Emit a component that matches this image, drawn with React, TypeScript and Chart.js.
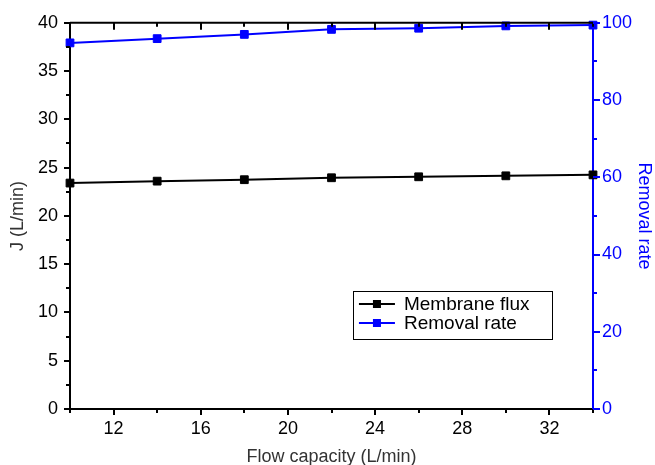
import React, { useEffect, useRef } from 'react';
import { Chart, registerables } from 'chart.js';

Chart.register(...registerables);

const flowCapacity = [10, 14, 18, 22, 26, 30, 34];
const membraneFlux = [23.4, 23.6, 23.75, 23.95, 24.05, 24.15, 24.25];
const removalRate = [94.8, 95.9, 97.0, 98.3, 98.6, 99.2, 99.4];

const xMajorTicks = [12, 16, 20, 24, 28, 32];
const xMinorTicks = [10, 14, 18, 22, 26, 30, 34];
const leftMajorTicks = [0, 5, 10, 15, 20, 25, 30, 35, 40];
const leftMinorTicks = [2.5, 7.5, 12.5, 17.5, 22.5, 27.5, 32.5, 37.5];
const rightMajorTicks = [0, 20, 40, 60, 80, 100];
const rightMinorTicks = [10, 30, 50, 70, 90];

const seriesNames = ['Membrane flux', 'Removal rate'];
const xTitle = 'Flow capacity (L/min)';
const yTitle = 'J (L/min)';
const y1Title = 'Removal rate';

const FONT = '"Liberation Sans", Arial, Helvetica, sans-serif';
const BLUE = '#0000ff';

const axisTicksPlugin = {
  id: 'axisTicks',
  afterDraw(chart: any) {
    const { ctx, chartArea: a, scales } = chart;
    const sx = scales.x;
    const sy = scales.y;
    const sy1 = scales.y1;
    ctx.save();
    ctx.lineWidth = 2;
    ctx.lineCap = 'butt';
    const seg = (x1: number, y1: number, x2: number, y2: number, color: string) => {
      ctx.strokeStyle = color;
      ctx.beginPath();
      ctx.moveTo(x1, y1);
      ctx.lineTo(x2, y2);
      ctx.stroke();
    };
    // top frame line
    seg(a.left, a.top, a.right, a.top, '#000');
    // bottom ticks (outward) and top ticks (inward)
    xMajorTicks.forEach((v) => {
      const px = Math.round(sx.getPixelForValue(v));
      seg(px, a.bottom, px, a.bottom + 6, '#000');
      seg(px, a.top, px, a.top + 7, '#000');
    });
    xMinorTicks.forEach((v) => {
      const px = Math.round(sx.getPixelForValue(v));
      seg(px, a.bottom, px, a.bottom + 4, '#000');
      seg(px, a.top, px, a.top + 4, '#000');
    });
    // left ticks
    leftMajorTicks.forEach((v) => {
      const py = Math.round(sy.getPixelForValue(v));
      seg(a.left, py, a.left - 6, py, '#000');
    });
    leftMinorTicks.forEach((v) => {
      const py = Math.round(sy.getPixelForValue(v));
      seg(a.left, py, a.left - 4, py, '#000');
    });
    // right ticks
    rightMajorTicks.forEach((v) => {
      const py = Math.round(sy1.getPixelForValue(v));
      seg(a.right, py, a.right + 7, py, BLUE);
    });
    rightMinorTicks.forEach((v) => {
      const py = Math.round(sy1.getPixelForValue(v));
      seg(a.right, py, a.right + 4, py, BLUE);
    });
    ctx.restore();
  },
};

const boxLegendPlugin = {
  id: 'boxLegend',
  afterDraw(chart: any) {
    const { ctx, chartArea: a } = chart;
    const w = a.right - a.left;
    const h = a.bottom - a.top;
    const bx = a.left + 0.541 * w;
    const by = a.top + 0.694 * h;
    const bw = 0.381 * w;
    const bh = 0.124 * h;
    ctx.save();
    ctx.strokeStyle = '#000';
    ctx.lineWidth = 1;
    ctx.strokeRect(Math.round(bx) + 0.5, Math.round(by) + 0.5, Math.round(bw), Math.round(bh));
    ctx.font = '19px ' + FONT;
    ctx.textBaseline = 'middle';
    ctx.textAlign = 'left';
    chart.data.datasets.forEach((ds: any, i: number) => {
      const ly = Math.round(by + 13 + i * 19.5);
      const lx = bx + 6;
      ctx.strokeStyle = ds.borderColor;
      ctx.lineWidth = 2;
      ctx.beginPath();
      ctx.moveTo(lx, ly);
      ctx.lineTo(lx + 36, ly);
      ctx.stroke();
      ctx.fillStyle = ds.borderColor;
      ctx.fillRect(lx + 18 - 4, ly - 4, 8, 8);
      ctx.fillStyle = '#000';
      ctx.fillText(ds.label, lx + 45, ly + 1);
    });
    ctx.restore();
  },
};

export default function App() {
  const canvasRef = useRef<HTMLCanvasElement | null>(null);

  useEffect(() => {
    if (!canvasRef.current) return;
    Chart.defaults.font.family = FONT;
    const chart = new Chart(canvasRef.current, {
      type: 'line',
      data: {
        datasets: [
          {
            label: seriesNames[0],
            data: flowCapacity.map((x, i) => ({ x, y: membraneFlux[i] })),
            borderColor: '#000',
            backgroundColor: '#000',
            borderWidth: 2,
            pointStyle: 'rect',
            pointRadius: 5.5,
            pointBorderWidth: 1,
            yAxisID: 'y',
            clip: false,
          },
          {
            label: seriesNames[1],
            data: flowCapacity.map((x, i) => ({ x, y: removalRate[i] })),
            borderColor: BLUE,
            backgroundColor: BLUE,
            borderWidth: 2,
            pointStyle: 'rect',
            pointRadius: 5.5,
            pointBorderWidth: 1,
            yAxisID: 'y1',
            clip: false,
          },
        ],
      },
      options: {
        responsive: false,
        animation: false,
        layout: { padding: { top: 21, left: 0, right: 0, bottom: 0 } },
        plugins: {
          legend: { display: false },
          tooltip: { enabled: false },
        },
        scales: {
          x: {
            type: 'linear',
            position: 'bottom',
            min: 10,
            max: 34,
            afterBuildTicks: (s: any) => {
              s.ticks = xMajorTicks.map((value) => ({ value }));
            },
            afterFit: (s: any) => {
              s.height = 56;
            },
            grid: { display: false, drawTicks: false },
            border: { display: true, color: '#000', width: 2 },
            ticks: {
              color: '#000',
              font: { size: 18 },
              padding: 9,
              maxRotation: 0,
              autoSkip: false,
            },
            title: {
              display: true,
              text: xTitle,
              color: '#333',
              font: { size: 18 },
              padding: { top: 0, bottom: -3 },
            },
          },
          y: {
            type: 'linear',
            position: 'left',
            min: 0,
            max: 40,
            afterBuildTicks: (s: any) => {
              s.ticks = leftMajorTicks.map((value) => ({ value }));
            },
            afterFit: (s: any) => {
              s.width = 70;
            },
            grid: { display: false, drawTicks: false },
            border: { display: true, color: '#000', width: 2 },
            ticks: { color: '#000', font: { size: 18 }, padding: 12 },
            title: {
              display: true,
              text: yTitle,
              color: '#333',
              font: { size: 18 },
              padding: { top: 7, bottom: 0 },
            },
          },
          y1: {
            type: 'linear',
            position: 'right',
            min: 0,
            max: 100,
            afterBuildTicks: (s: any) => {
              s.ticks = rightMajorTicks.map((value) => ({ value }));
            },
            afterFit: (s: any) => {
              s.width = 62;
            },
            grid: { display: false, drawTicks: false },
            border: { display: true, color: BLUE, width: 2 },
            ticks: { color: BLUE, font: { size: 18 }, padding: 9 },
            title: {
              display: true,
              text: y1Title,
              color: BLUE,
              font: { size: 18 },
              padding: { top: 0, bottom: 0 },
            },
          },
        },
      },
      plugins: [axisTicksPlugin, boxLegendPlugin],
    } as any);
    return () => chart.destroy();
  }, []);

  return (
    <div style={{ position: 'absolute', left: 0, top: 0, width: 655, height: 465, background: '#fff' }}>
      <canvas ref={canvasRef} width={655} height={465} style={{ display: 'block' }} />
    </div>
  );
}
